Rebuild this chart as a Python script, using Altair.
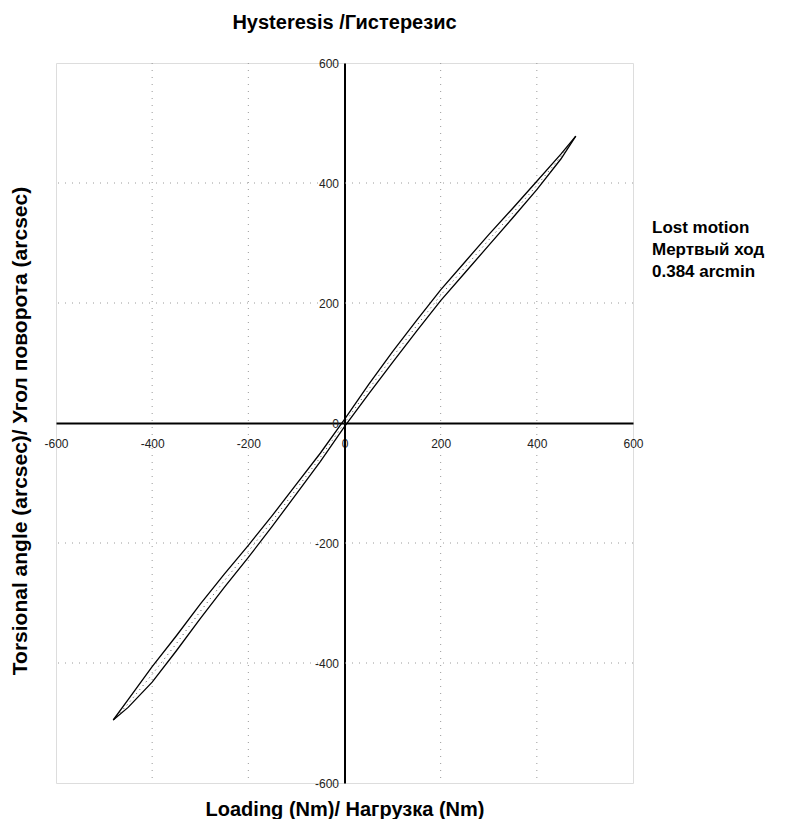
import altair as alt
import pandas as pd

# Load (Nm) sample points shared by all curves
load_nm = [-481, -450, -400, -350, -300, -250, -200, -150, -100, -50, 0,
           50, 100, 150, 200, 250, 300, 350, 400, 450, 481]
# Upper (left) branch of the hysteresis loop, arcsec
upper_arcsec = [-495, -461, -406, -355, -302, -252, -204, -154, -102, -50, 6,
                64, 119, 171, 222, 268, 314, 358, 403, 448, 478]
# Lower (right) branch, arcsec
lower_arcsec = [-495, -474, -432, -380, -326, -274, -224, -172, -118, -64, -6,
                48, 101, 153, 204, 250, 296, 342, 389, 440, 478]
# Mean (dotted) curve, arcsec
center_arcsec = [-495, -468, -419, -368, -314, -263, -214, -163, -110, -57, 0,
                 56, 110, 162, 213, 259, 305, 350, 396, 444, 478]

grid_vals = [-400, -200, 200, 400]
tick_vals = [-600, -400, -200, 0, 200, 400, 600]

title_text = "Hysteresis /Гистерезис"
x_title = "Loading (Nm)/ Нагрузка (Nm)"
y_title = "Torsional angle (arcsec)/ Угол поворота (arcsec)"
note_lines = ["Lost motion", "Мертвый ход", "0.384 arcmin"]

W, H = 577, 720
FONT = "Liberation Sans"

rows = []
for name, ys in [("upper", upper_arcsec), ("lower", lower_arcsec)]:
    for i, (x, y) in enumerate(zip(load_nm, ys)):
        rows.append({"branch": name, "i": i, "load": x, "angle": y})
loop_df = pd.DataFrame(rows)
center_df = pd.DataFrame({"i": range(len(load_nm)), "load": load_nm, "angle": center_arcsec})
grid_df = pd.DataFrame({"v": grid_vals})

xscale = alt.Scale(domain=[-600, 600], nice=False, zero=False)
yscale = alt.Scale(domain=[-600, 600], nice=False, zero=False)

common_axis = dict(values=tick_vals, grid=False, ticks=False, tickSize=0,
                   domainColor="black", domainWidth=2,
                   labelFlush=False, labelOverlap=False, labelFont=FONT,
                   labelFontSize=12, labelColor="#222", title=None,
                   labelExpr="'' + datum.value")
x_axis = alt.Axis(offset=-H / 2, labelPadding=15, **common_axis)
y_axis = alt.Axis(offset=-W / 2, labelPadding=6, **common_axis)

X = alt.X("load:Q", scale=xscale, axis=x_axis)
Y = alt.Y("angle:Q", scale=yscale, axis=y_axis)

vgrid = alt.Chart(grid_df).mark_rule(color="#9a9a9a", strokeDash=[1, 6], strokeWidth=1).encode(
    x=alt.X("v:Q", scale=xscale, axis=x_axis))
hgrid = alt.Chart(grid_df).mark_rule(color="#9a9a9a", strokeDash=[1, 6], strokeWidth=1).encode(
    y=alt.Y("v:Q", scale=yscale, axis=y_axis))

loop = alt.Chart(loop_df).mark_line(color="black", strokeWidth=1.3).encode(
    x=X, y=Y, detail="branch:N", order="i:Q")
center = alt.Chart(center_df).mark_line(color="#444", strokeWidth=1, strokeDash=[1, 4]).encode(
    x=X, y=Y, order="i:Q")

ytitle = alt.Chart(pd.DataFrame({"t": [y_title]})).mark_text(
    angle=270, font=FONT, fontSize=21, fontWeight="bold", color="black", baseline="middle"
).encode(text="t:N", x=alt.value(-35), y=alt.value(368))

xtitle = alt.Chart(pd.DataFrame({"t": [x_title]})).mark_text(
    font=FONT, fontSize=20, fontWeight="bold", color="black", baseline="middle"
).encode(text="t:N", x=alt.value(289), y=alt.value(747))

note_layers = []
for k, line in enumerate(note_lines):
    note_layers.append(
        alt.Chart(pd.DataFrame({"t": [line]})).mark_text(
            font=FONT, fontSize=17, fontWeight="bold", color="black", align="left", baseline="middle"
        ).encode(text="t:N", x=alt.value(596), y=alt.value(165 + 22 * k))
    )

chart = alt.layer(vgrid, hgrid, center, loop, ytitle, xtitle, *note_layers).properties(
    width=W, height=H,
    title=alt.TitleParams(title_text, font=FONT, fontSize=20, fontWeight="bold",
                          anchor="middle", offset=24, color="black"),
    autosize=alt.AutoSizeParams(type="none"),
    padding={"left": 48, "top": 55, "right": 150, "bottom": 36},
).configure_view(stroke="#a8a8a8", strokeWidth=2).configure(background="white")

chart.save("out.html", embed_options={"renderer": "svg", "actions": False})
